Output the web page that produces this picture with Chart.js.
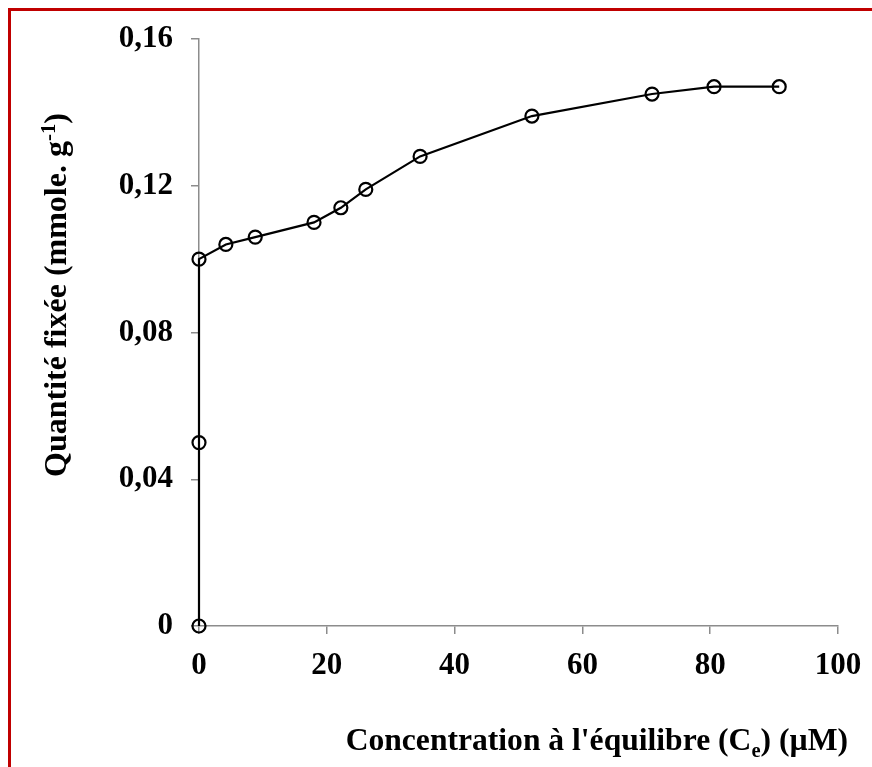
<!DOCTYPE html>
<html>
<head>
<meta charset="utf-8">
<script src="https://cdn.jsdelivr.net/npm/chart.js@4"></script>
<style>
  html, body { margin: 0; padding: 0; background: #fff; overflow: hidden; }
  #frame {
    position: absolute; left: 8px; top: 8px; width: 900px; height: 800px;
    border-left: 3px solid #c00000; border-top: 3px solid #c00000;
  }
  #chart { position: absolute; left: 0; top: 0; }
</style>
</head>
<body>
<div id="frame"></div>
<canvas id="chart" width="872" height="767"></canvas>
<script>
// Concentration at equilibrium (µM)
const concentration = [0, 0, 0, 4.2, 8.8, 18.0, 22.2, 26.1, 34.6, 52.1, 70.9, 80.6, 90.8];
// Quantity fixed (mmole/g)
const quantity = [0, 0.050, 0.100, 0.104, 0.106, 0.110, 0.114, 0.119, 0.128, 0.139, 0.145, 0.147, 0.147];

const serif = "'Liberation Serif', 'Times New Roman', serif";

// draws text runs with sub/superscripts, starting at x
function drawRuns(ctx, runs, x, y, size) {
  runs.forEach((r) => {
    const s = r.sub || r.sup ? size * 0.65 : size;
    ctx.font = "bold " + s + "px " + serif;
    let dy = 0;
    if (r.sub) dy = size * 0.22;
    if (r.sup) dy = -size * 0.35;
    ctx.fillText(r.t, x, y + dy);
    x += ctx.measureText(r.t).width;
  });
}
function runsWidth(ctx, runs, size) {
  let w = 0;
  runs.forEach((r) => {
    const s = r.sub || r.sup ? size * 0.65 : size;
    ctx.font = "bold " + s + "px " + serif;
    w += ctx.measureText(r.t).width;
  });
  return w;
}

const titlePlugin = {
  id: "richTitles",
  afterDraw(chart) {
    const ctx = chart.ctx;
    ctx.save();
    ctx.fillStyle = "#000";
    ctx.textBaseline = "alphabetic";
    ctx.textAlign = "left";

    const xRuns = [{ t: "Concentration à l'équilibre (C" }, { t: "e", sub: true }, { t: ") (µM)" }];
    const xw = runsWidth(ctx, xRuns, 31.6);
    drawRuns(ctx, xRuns, 848 - xw, 750, 31.6);

    const yRuns = [{ t: "Quantité fixée (mmole. g" }, { t: "-1", sup: true }, { t: ")" }];
    const yw = runsWidth(ctx, yRuns, 32);
    ctx.translate(66, 295);
    ctx.rotate(-Math.PI / 2);
    drawRuns(ctx, yRuns, -yw / 2, 0, 32);
    ctx.restore();
  },
};

new Chart(document.getElementById("chart"), {
  type: "scatter",
  data: {
    datasets: [
      {
        data: concentration.map((c, i) => ({ x: c, y: quantity[i] })),
        showLine: true,
        clip: false,
        borderColor: "#000",
        borderWidth: 2.2,
        pointRadius: 6.5,
        pointBorderWidth: 2.2,
        pointBorderColor: "#000",
        pointBackgroundColor: "rgba(0,0,0,0)",
        pointStyle: "circle",
      },
    ],
  },
  options: {
    responsive: false,
    animation: false,
    layout: { padding: { top: 39, right: 34, left: 0, bottom: 0 } },
    plugins: { legend: { display: false }, tooltip: { enabled: false } },
    scales: {
      x: {
        type: "linear",
        min: 0,
        max: 100,
        afterFit: (s) => {
          s.height = 141;
          s.paddingLeft = 0;
          s.paddingRight = 0;
        },
        ticks: {
          stepSize: 20,
          padding: 13,
          color: "#000",
          font: { family: serif, size: 31, weight: "bold" },
        },
        grid: { drawOnChartArea: false, tickLength: 8, color: "#8c8c8c", lineWidth: 1.5 },
        border: { color: "#8c8c8c", width: 1.5 },
      },
      y: {
        min: 0,
        max: 0.16,
        afterFit: (s) => {
          s.width = 199;
          s.paddingTop = 0;
          s.paddingBottom = 0;
        },
        ticks: {
          stepSize: 0.04,
          padding: 18,
          color: "#000",
          font: { family: serif, size: 31, weight: "bold" },
          callback: (v) => (v === 0 ? "0" : v.toFixed(2).replace(".", ",")),
        },
        grid: { drawOnChartArea: false, tickLength: 8, color: "#8c8c8c", lineWidth: 1.5 },
        border: { color: "#8c8c8c", width: 1.5 },
      },
    },
  },
  plugins: [titlePlugin],
});
</script>
</body>
</html>
